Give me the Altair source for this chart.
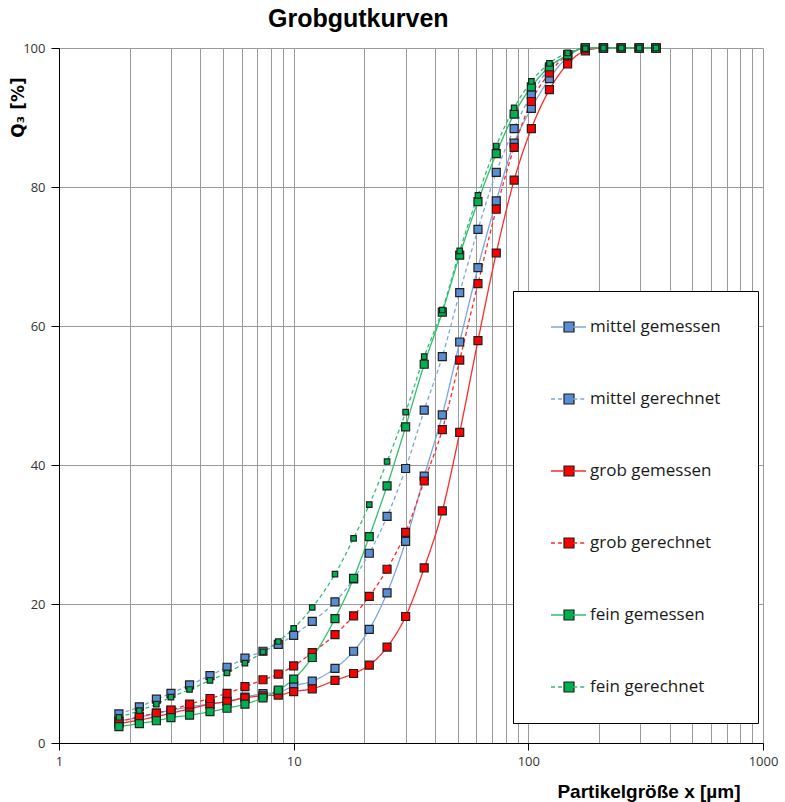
import altair as alt
import pandas as pd

# Particle size classes (µm)
sizes = [1.8, 2.2, 2.6, 3.0, 3.6, 4.4, 5.2, 6.2, 7.4, 8.6,
         10, 12, 15, 18, 21, 25, 30, 36, 43, 51,
         61, 73, 87, 103, 123, 147, 175, 209, 249, 297, 350]

# Cumulative distributions Q3 (%)
mittel_gemessen = [3.2, 3.7, 4.3, 4.7, 5.2, 5.6, 6.0, 6.6, 7.1, 7.3,
                   8.2, 8.9, 10.75, 13.2, 16.35, 21.6, 29.0, 38.4, 47.2, 57.7,
                   68.4, 78.0, 86.3, 91.3, 95.6, 98.7, 100, 100, 100, 100, 100]
mittel_gerechnet = [4.2, 5.2, 6.3, 7.15, 8.35, 9.7, 10.9, 12.2, 13.2, 14.2,
                    15.5, 17.5, 20.3, 23.6, 27.3, 32.6, 39.5, 47.9, 55.6, 64.8,
                    73.9, 82.1, 88.4, 93.3, 97.0, 99.0, 100, 100, 100, 100, 100]
grob_gemessen = [2.8, 3.3, 3.8, 4.3, 4.9, 5.6, 5.95, 6.5, 6.8, 6.9,
                 7.4, 7.8, 9.0, 10.0, 11.2, 13.8, 18.2, 25.2, 33.4, 44.7,
                 57.9, 70.5, 81.0, 88.4, 94.0, 97.7, 99.6, 100, 100, 100, 100]
grob_gerechnet = [3.0, 3.8, 4.3, 4.75, 5.6, 6.4, 7.15, 8.1, 9.1, 9.9,
                  11.1, 13.0, 15.6, 18.3, 21.1, 25.0, 30.3, 37.7, 45.1, 55.1,
                  66.1, 76.8, 85.7, 92.3, 96.4, 99.0, 100, 100, 100, 100, 100]
fein_gemessen = [2.35, 2.8, 3.2, 3.65, 4.0, 4.5, 5.0, 5.6, 6.5, 7.6,
                 9.2, 12.3, 17.9, 23.7, 29.7, 37.0, 45.5, 54.5, 62.0, 70.2,
                 77.9, 84.8, 90.5, 94.4, 97.3, 99.0, 100, 100, 100, 100, 100]
fein_gerechnet = [3.7, 4.65, 5.6, 6.6, 7.7, 9.0, 10.1, 11.5, 13.1, 14.6,
                  16.5, 19.5, 24.3, 29.45, 34.3, 40.5, 47.6, 55.6, 62.3, 70.8,
                  78.8, 85.9, 91.4, 95.2, 97.8, 99.3, 99.9, 100, 100, 100, 100]

series_names = ["mittel gemessen", "mittel gerechnet", "grob gemessen",
                "grob gerechnet", "fein gemessen", "fein gerechnet"]
series_values = [mittel_gemessen, mittel_gerechnet, grob_gemessen,
                 grob_gerechnet, fein_gemessen, fein_gerechnet]

line_colors = ["#7aa6dd", "#7aa6dd", "#ff2a2a", "#ff2a2a", "#30bf6e", "#30bf6e"]
marker_colors = ["#5a8ed4", "#5a8ed4", "#ff0000", "#ff0000", "#00b050", "#00b050"]
dash_patterns = [[1, 0], [4, 3], [1, 0], [4, 3], [1, 0], [4, 3]]
marker_sizes = [64, 64, 64, 64, 64, 30]

# log grid lines: 1..9, 10..90, 100..900, 1000
grid_values = [m * 10 ** e for e in range(3) for m in range(1, 10)] + [1000]

rows = []
idx = 0
for name, vals in zip(series_names, series_values):
    for xv, yv in zip(sizes, vals):
        rows.append({"series": name, "x": xv, "q3": yv, "idx": idx})
        idx += 1
df = pd.DataFrame(rows)

FONT = "Open Sans"
BOLD = "Liberation Sans"
GRID = "#9a9a9a"
major = "datum.value == 1 || datum.value == 10 || datum.value == 100 || datum.value == 1000"

x_axis = alt.Axis(
    values=grid_values,
    labelExpr=f"({major}) ? format(datum.value, 'd') : ''",
    labelOverlap=False, labelFlush=False,
    grid=True, gridColor=GRID, gridWidth=1,
    domainColor="black", domainWidth=1,
    tickColor="black", tickSize=7,
    tickOpacity={"condition": {"test": major, "value": 1}, "value": 0},
    labelPadding=5, labelFont=FONT, labelFontSize=13, labelColor="#333333",
    title="Partikelgröße x [µm]", titleFont=BOLD, titleFontWeight="bold",
    titleFontSize=19, titleColor="black", titleAlign="right",
    titleBaseline="alphabetic", titleX=681, titleY=54,
)
y_axis = alt.Axis(
    values=[0, 20, 40, 60, 80, 100],
    grid=True, gridColor=GRID, gridWidth=1,
    domainColor="black", domainWidth=1,
    tickColor="black", tickSize=8,
    labelPadding=6, labelFont=FONT, labelFontSize=13, labelColor="#333333",
    title="Q₃ [%]", titleFont="DejaVu Sans", titleFontWeight="bold", titleFontSize=17,
    titleColor="black", titleAngle=270, titleAlign="center",
    titleBaseline="middle", titleX=-41, titleY=59,
)

# line part of the legend entries (gap in the middle for the marker)
legend_lines = alt.Legend(
    title=None, orient="none", legendX=491, legendY=243, padding=0,
    rowPadding=0, clipHeight=72, symbolType="M-1,0H-0.27M0.27,0H1",
    symbolSize=1225, symbolStrokeWidth=1.3, labelFont=FONT, labelFontSize=17,
    labelColor="#1a1a1a", labelOffset=3, zindex=2,
)
# marker part of the legend entries, plus the framed white box
legend_marks = alt.Legend(
    title=None, orient="none", legendX=454, legendY=243, padding=0,
    rowPadding=0, clipHeight=72, symbolType="square",
    symbolStrokeColor="#1f1f1f", symbolStrokeWidth=1.2, symbolOffset=50,
    labelExpr="''", labelOffset=183,
    strokeColor="black", fillColor="white", zindex=1,
)

base = alt.Chart(df)

lines = base.mark_line(interpolate="monotone", strokeWidth=1.3).encode(
    x=alt.X("x:Q", scale=alt.Scale(type="log", domain=[1, 1000], nice=False), axis=x_axis),
    y=alt.Y("q3:Q", scale=alt.Scale(domain=[0, 100], nice=False), axis=y_axis),
    stroke=alt.Stroke("series:N", scale=alt.Scale(domain=series_names, range=line_colors),
                      legend=legend_lines),
    strokeDash=alt.StrokeDash("series:N", scale=alt.Scale(domain=series_names, range=dash_patterns),
                              legend=legend_lines),
)

points = base.mark_point(shape="square", filled=True, stroke="#1f1f1f",
                         strokeWidth=1.2, opacity=1).encode(
    x=alt.X("x:Q"),
    y=alt.Y("q3:Q"),
    fill=alt.Fill("series:N", sort=series_names, scale=alt.Scale(range=marker_colors),
                  legend=legend_marks),
    size=alt.Size("series:N", sort=series_names,
                  scale=alt.Scale(type="ordinal", range=marker_sizes), legend=legend_marks),
    order=alt.Order("idx:Q"),
)

chart = alt.layer(lines, points).properties(
    width=704, height=695,
    autosize=alt.AutoSizeParams(type="none"),
    padding={"left": 59, "top": 48, "right": 22, "bottom": 59},
    title=alt.TitleParams("Grobgutkurven", anchor="start", dx=259, offset=10,
                          font=BOLD, fontSize=25, fontWeight="bold", color="black"),
).configure_view(strokeWidth=0)

chart.save("out.html", embed_options={"renderer": "svg", "actions": False})
